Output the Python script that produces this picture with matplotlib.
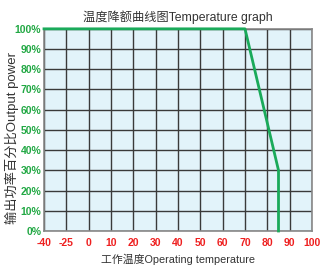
import numpy as np
import matplotlib
matplotlib.use("Agg")
import matplotlib.pyplot as plt

x_tick_labels = ["-40", "-25", "0", "10", "20", "30", "40", "50", "60", "70", "80", "90", "100"]
x_tick_values = [-40, -25, 0, 10, 20, 30, 40, 50, 60, 70, 80, 90, 100]
y_ticks = [0, 10, 20, 30, 40, 50, 60, 70, 80, 90, 100]
y_tick_labels = [f"{v}%" for v in y_ticks]

curve_temp = [-40, 70, 85, 85]
curve_power = [100, 100, 30, 0]

title = "温度降额曲线图Temperature graph"
xlabel = "工作温度Operating temperature"
ylabel = "输出功率百分比Output power"

reg_cjk = ["Liberation Sans", "Noto Sans CJK SC", "DejaVu Sans"]
narrow = ["Liberation Sans Narrow", "Liberation Sans", "DejaVu Sans"]

fig = plt.figure(figsize=(3.2, 2.66), dpi=100)
ax = fig.add_axes([0.1375, 0.1316, 0.8375, 0.76])

pos = np.arange(len(x_tick_values))
cx = np.interp(curve_temp, x_tick_values, pos)

ax.set_facecolor("#e2f3fa")
ax.set_xlim(0, len(x_tick_values) - 1)
ax.set_ylim(0, 100)
ax.set_xticks(pos)
ax.set_xticklabels(x_tick_labels, family=narrow, fontweight="bold", fontsize=7.5, color="#ee2020")
ax.set_yticks(y_ticks)
ax.set_yticklabels(y_tick_labels, family=narrow, fontweight="bold", fontsize=7.5, color="#22a844")
ax.tick_params(axis="x", length=0, pad=5)
ax.tick_params(axis="y", length=0, pad=2)
ax.grid(True, color="#3a3a3a", linewidth=1.0)
ax.set_axisbelow(True)
for s in ax.spines.values():
    s.set_color("#888888")
    s.set_linewidth(1.2)

ax.plot(cx, curve_power, color="#1aaa5a", linewidth=2.0, clip_on=False, zorder=5)

ax.set_title(title, family=reg_cjk, fontsize=8.8, color="#333333", pad=6)
ax.set_xlabel(xlabel, family=reg_cjk, fontsize=7.8, color="#333333", labelpad=4)
ax.set_ylabel(ylabel, family=reg_cjk, fontsize=9.5, color="#333333")
ax.yaxis.set_label_coords(-0.095, 0.46)

fig.savefig("out.png", dpi=100)
